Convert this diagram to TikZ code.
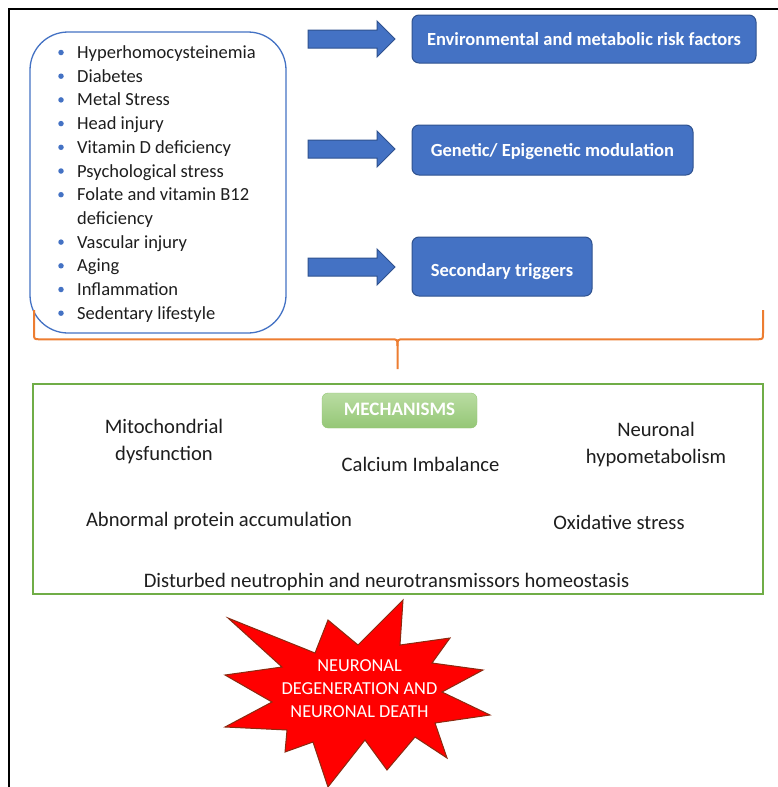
\documentclass[tikz,border=0pt]{standalone}
\usepackage{fontspec}
\setmainfont{Carlito}
\definecolor{bblue}{HTML}{4472C4}
\definecolor{bborder}{HTML}{2F528F}
\definecolor{orng}{HTML}{ED7D31}
\definecolor{grn}{HTML}{70AD47}
\definecolor{lgrnA}{HTML}{B9DCA2}
\definecolor{lgrnB}{HTML}{95C776}
\definecolor{txt}{HTML}{1E1E1E}
\definecolor{starred}{HTML}{FF0000}
\definecolor{starline}{HTML}{8B2A10}
\begin{document}
\begin{tikzpicture}[x=1pt,y=-1pt,
  every node/.style={inner sep=0pt},
  listbox/.style={draw=bblue, line width=1.3pt, rounded corners=38pt},
  listtext/.style={anchor=base west, font=\fontsize{18.5}{22}\selectfont, text=txt},
  bul/.style={fill=bblue, circle, minimum size=5.5pt},
  bluebox/.style={draw=bborder, fill=bblue, line width=1pt, rounded corners=7pt, text=white,
    font=\bfseries\fontsize{18.5}{22}\selectfont, text height=12pt, text depth=0pt},
  blockarrow/.style={draw=bborder, fill=bblue, line width=1pt, line join=miter},
  bracestyle/.style={draw=orng, line width=2pt},
  mechbox/.style={draw=grn, line width=2pt},
  mechtitle/.style={draw=lgrnB, top color=lgrnA, bottom color=lgrnB, rounded corners=6pt,
    text=white, font=\bfseries\fontsize{19}{22}\selectfont, text height=12pt, text depth=2pt},
  mech/.style={font=\fontsize{20.6}{27}\selectfont, text=txt, align=center},
  startext/.style={font=\fontsize{18.3}{23}\selectfont, text=white, align=center}
]
\useasboundingbox (0,0) rectangle (778,787);
\fill[white] (0,0) rectangle (778,787);
% outer frame (cropped)
\draw[line width=1.5pt] (9,787) -- (9,9) -- (778,9);

% list box
\node[listbox, minimum width=256pt, minimum height=301pt] (list) at (158,182.5) {};
\node[bul] (b0) at (61,52.5) {};   \node[listtext] (t0) at (77,58.5) {Hyperhomocysteinemia};
\node[bul] (b1) at (61,76.2) {};   \node[listtext] (t1) at (77,82.2) {Diabetes};
\node[bul] (b2) at (61,99.9) {};   \node[listtext] (t2) at (77,105.9) {Metal Stress};
\node[bul] (b3) at (61,123.6) {};  \node[listtext] (t3) at (77,129.6) {Head injury};
\node[bul] (b4) at (61,147.3) {};  \node[listtext] (t4) at (77,153.3) {Vitamin D deficiency};
\node[bul] (b5) at (61,171.0) {};  \node[listtext] (t5) at (77,177.0) {Psychological stress};
\node[bul] (b6) at (61,194.7) {};  \node[listtext] (t6) at (77,200.7) {Folate and vitamin B12};
                                   \node[listtext] (t7) at (77,224.4) {deficiency};
\node[bul] (b8) at (61,242.1) {};  \node[listtext] (t8) at (77,248.1) {Vascular injury};
\node[bul] (b9) at (61,265.8) {};  \node[listtext] (t9) at (77,271.8) {Aging};
\node[bul] (b10) at (61,289.5) {}; \node[listtext] (t10) at (77,295.5) {Inflammation};
\node[bul] (b11) at (61,313.2) {}; \node[listtext] (t11) at (77,319.2) {Sedentary lifestyle};

% blue boxes
\node[bluebox, minimum width=344pt, minimum height=48pt] (env) at (584,39) {Environmental and metabolic risk factors};
\node[bluebox, minimum width=281pt, minimum height=50pt] (gen) at (552.5,150) {Genetic/ Epigenetic modulation};
\node[bluebox, minimum width=180pt, minimum height=59pt, text height=20pt] (sec) at (502,266.5) {Secondary triggers};

% block arrows
\foreach \yc/\nm in {39/env,149/gen,267/sec}{
  \path[blockarrow] (308,\yc-9) -- (377,\yc-9) -- (377,\yc-18) -- (395,\yc) -- (377,\yc+18)
     -- (377,\yc+9) -- (308,\yc+9) -- cycle;
}

% orange brace
\coordinate (brL) at (34,310);
\coordinate (brR) at (763,310);
\coordinate (brM) at (397.5,369);
\draw[bracestyle] (brL) -- (34,333) .. controls (34,339.3) .. (40,339.3) -- (391,339.3)
   .. controls (397.5,339.3) .. (397.5,346) -- (brM);
\draw[bracestyle] (brR) -- (763,333) .. controls (763,339.3) .. (757,339.3) -- (404,339.3)
   .. controls (397.5,339.3) .. (397.5,346);

% mechanisms box
\node[mechbox, minimum width=730pt, minimum height=210pt] (mbox) at (398,489) {};
\node[mechtitle, minimum width=155pt, minimum height=35pt] (mtitle) at (399.5,410.5) {MECHANISMS};
\node[mech] (mito) at (164,442) {Mitochondrial\\dysfunction};
\node[mech] (calc) at (420.5,464) {Calcium Imbalance};
\node[mech] (neur) at (656,445) {Neuronal\\hypometabolism};
\node[mech] (abn) at (219,521) {Abnormal protein accumulation};
\node[mech] (oxi) at (619,522) {Oxidative stress};
\node[mech] (dist) at (386.5,582) {Disturbed neutrophin and neurotransmissors homeostasis};

% star
\path[fill=starred, draw=starline, line width=1pt, line join=miter]
  (228,618) -- (315,653) -- (328,620) -- (358,645) -- (403,600) -- (400,645) -- (450,638)
  -- (432,663) -- (483,670) -- (442,692) -- (490,715) -- (435,723) -- (447,758)
  -- (415,737) -- (387,770) -- (365,740) -- (328,787) -- (313,742) -- (285,752)
  -- (287,730) -- (225,727) -- (272,702) -- (225,675) -- (282,667) -- cycle;
\node[startext] (death) at (359.5,689) {NEURONAL\\DEGENERATION AND\\NEURONAL DEATH};
\end{tikzpicture}
\end{document}
